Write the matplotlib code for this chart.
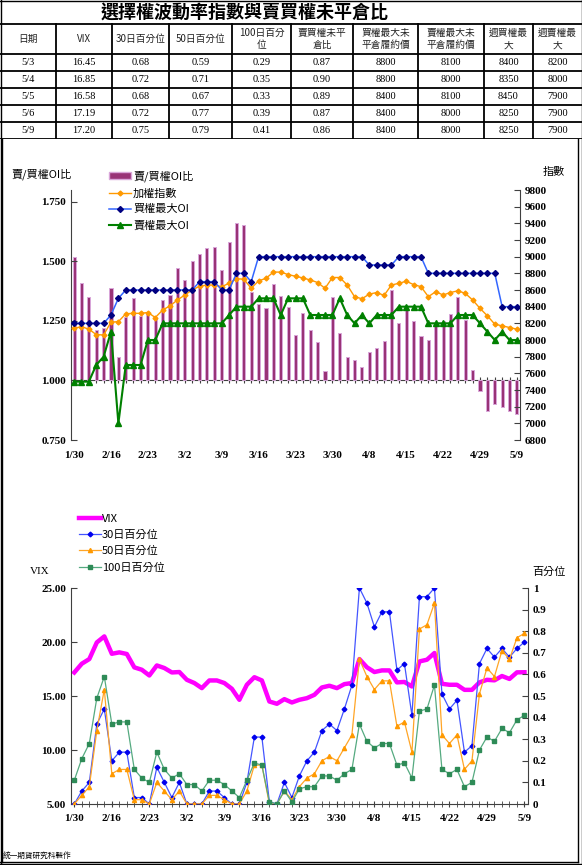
import matplotlib
matplotlib.use('Agg')
import matplotlib.pyplot as plt
import numpy as np
from matplotlib.lines import Line2D
from matplotlib.patches import Patch
from matplotlib.ticker import FormatStrFormatter, FuncFormatter

plt.rcParams['font.family'] = ['Liberation Serif', 'Noto Sans CJK TC']
CJK = ['Noto Sans CJK TC', 'DejaVu Sans']

# --- Table data ---
tbl_title = '選擇權波動率指數與賣買權未平倉比'
tbl_headers = ['日期', 'VIX', '30日百分位', '50日百分位', '100日百分\n位', '賣買權未平\n倉比',
               '買權最大未\n平倉履約價', '賣權最大未\n平倉履約價', '週買權最\n大', '週賣權最\n大']
tbl_dates = ['5/3', '5/4', '5/5', '5/6', '5/9']
tbl_vix = ['16.45', '16.85', '16.58', '17.19', '17.20']
tbl_p30 = ['0.68', '0.72', '0.68', '0.72', '0.75']
tbl_p50 = ['0.59', '0.71', '0.67', '0.77', '0.79']
tbl_p100 = ['0.29', '0.35', '0.33', '0.39', '0.41']
tbl_pc = ['0.87', '0.90', '0.89', '0.87', '0.86']
tbl_call_max = ['8800', '8800', '8400', '8400', '8400']
tbl_put_max = ['8100', '8000', '8100', '8000', '8000']
tbl_wk_call = ['8400', '8350', '8450', '8250', '8250']
tbl_wk_put = ['8200', '8000', '7900', '7900', '7900']

# --- Chart data ---
dates = ['1/30', '2/1', '2/2', '2/3', '2/15', '2/16', '2/17', '2/18', '2/19', '2/22',
         '2/23', '2/24', '2/25', '2/26', '3/1', '3/2', '3/3', '3/4', '3/7', '3/8',
         '3/9', '3/10', '3/11', '3/14', '3/15', '3/16', '3/17', '3/18', '3/21', '3/22',
         '3/23', '3/24', '3/25', '3/28', '3/29', '3/30', '3/31', '4/1', '4/6', '4/7',
         '4/8', '4/11', '4/12', '4/13', '4/14', '4/15', '4/18', '4/19', '4/20', '4/21',
         '4/22', '4/25', '4/26', '4/27', '4/28', '4/29', '5/3', '5/4', '5/5', '5/6',
         '5/9']

pc_ratio = [1.52, 1.41, 1.35, 1.21, 1.22, 1.39, 1.10, 1.265, 1.347, 1.27,
            1.28, 1.26, 1.336, 1.357, 1.473, 1.424, 1.50, 1.532, 1.557, 1.56,
            1.466, 1.581, 1.661, 1.655, 1.371, 1.322, 1.305, 1.406, 1.354, 1.31,
            1.189, 1.285, 1.212, 1.16, 1.038, 1.35, 1.199, 1.10, 1.084, 1.057,
            1.12, 1.136, 1.165, 1.381, 1.241, 1.30, 1.249, 1.185, 1.171, 1.231,
            1.249, 1.28, 1.35, 1.252, 1.042, 0.955, 0.87, 0.90, 0.89, 0.87,
            0.86]

taiex = [8140, 8160, 8130, 8065, 8060, 8215, 8220, 8315, 8320, 8320,
         8330, 8270, 8360, 8410, 8480, 8540, 8600, 8645, 8660, 8660,
         8640, 8680, 8735, 8730, 8620, 8710, 8740, 8815, 8815, 8785,
         8765, 8745, 8720, 8690, 8620, 8750, 8750, 8660, 8520, 8495,
         8550, 8570, 8535, 8660, 8680, 8705, 8665, 8640, 8520, 8580,
         8540, 8570, 8590, 8560, 8480, 8380, 8290, 8190, 8170, 8150,
         8130]

call_max_oi = [8200, 8200, 8200, 8200, 8200, 8300, 8500, 8600, 8600, 8600,
               8600, 8600, 8600, 8600, 8600, 8600, 8600, 8700, 8700, 8700,
               8600, 8600, 8800, 8800, 8700, 9000, 9000, 9000, 9000, 9000,
               9000, 9000, 9000, 9000, 9000, 9000, 9000, 9000, 9000, 9000,
               8900, 8900, 8900, 8900, 9000, 9000, 9000, 9000, 8800, 8800,
               8800, 8800, 8800, 8800, 8800, 8800, 8800, 8800, 8400, 8400,
               8400]

put_max_oi = [7500, 7500, 7500, 7700, 7800, 8100, 7000, 7700, 7700, 7700,
              8000, 8000, 8200, 8200, 8200, 8200, 8200, 8200, 8200, 8200,
              8200, 8300, 8400, 8400, 8400, 8500, 8500, 8500, 8300, 8500,
              8500, 8500, 8300, 8300, 8300, 8300, 8500, 8300, 8200, 8300,
              8200, 8300, 8300, 8300, 8400, 8400, 8400, 8400, 8200, 8200,
              8200, 8200, 8300, 8300, 8300, 8200, 8100, 8000, 8100, 8000,
              8000]

vix = [17.18, 17.99, 18.42, 19.96, 20.52, 18.91, 19.04, 18.89, 17.65, 17.43,
       16.90, 17.83, 17.59, 17.18, 17.22, 16.50, 16.20, 15.73, 16.44, 16.44,
       16.20, 15.67, 14.65, 16.04, 16.74, 16.44, 14.49, 14.28, 14.71, 14.40,
       14.65, 14.80, 15.11, 15.79, 15.95, 15.73, 16.10, 16.20, 18.42, 17.66,
       17.22, 17.37, 17.37, 16.26, 16.30, 15.88, 18.20, 18.36, 18.98, 16.13,
       16.04, 16.04, 15.57, 15.57, 16.26, 16.50, 16.45, 16.85, 16.58, 17.19,
       17.20]

p30 = [0.00, 0.06, 0.10, 0.37, 0.44, 0.20, 0.24, 0.24, 0.03, 0.03,
       0.00, 0.17, 0.10, 0.03, 0.10, 0.00, 0.00, 0.00, 0.06, 0.06,
       0.03, 0.00, 0.00, 0.10, 0.31, 0.31, 0.01, 0.00, 0.10, 0.03,
       0.13, 0.20, 0.24, 0.34, 0.37, 0.34, 0.44, 0.55, 1.00, 0.93,
       0.82, 0.89, 0.89, 0.62, 0.65, 0.41, 0.96, 0.96, 1.00, 0.51,
       0.44, 0.48, 0.24, 0.27, 0.65, 0.72, 0.68, 0.72, 0.68, 0.72,
       0.75]

p50 = [0.00, 0.04, 0.08, 0.34, 0.53, 0.14, 0.16, 0.16, 0.02, 0.02,
       0.00, 0.10, 0.06, 0.02, 0.06, 0.00, 0.00, 0.00, 0.04, 0.04,
       0.02, 0.00, 0.00, 0.06, 0.18, 0.18, 0.00, 0.00, 0.06, 0.02,
       0.08, 0.12, 0.14, 0.20, 0.22, 0.20, 0.26, 0.32, 0.67, 0.59,
       0.53, 0.57, 0.57, 0.36, 0.38, 0.24, 0.81, 0.83, 0.93, 0.32,
       0.28, 0.32, 0.16, 0.20, 0.51, 0.63, 0.59, 0.71, 0.67, 0.77,
       0.79]

p100 = [0.11, 0.21, 0.28, 0.49, 0.59, 0.37, 0.38, 0.38, 0.16, 0.12,
        0.10, 0.24, 0.16, 0.12, 0.14, 0.09, 0.09, 0.06, 0.11, 0.11,
        0.09, 0.06, 0.03, 0.11, 0.19, 0.18, 0.01, 0.00, 0.06, 0.01,
        0.07, 0.08, 0.08, 0.13, 0.13, 0.11, 0.14, 0.16, 0.37, 0.29,
        0.26, 0.28, 0.28, 0.18, 0.19, 0.12, 0.43, 0.44, 0.55, 0.16,
        0.14, 0.16, 0.08, 0.10, 0.25, 0.31, 0.29, 0.35, 0.33, 0.39,
        0.41]

# --- Figure in pixel layout ---
W, H = 582, 865
fig = plt.figure(figsize=(W / 100, H / 100), dpi=100)


def add_ax(l, t, r, b):
    return fig.add_axes([l / W, 1 - b / H, (r - l) / W, (b - t) / H])


def fig_line(xs, ys, lw=1.0):
    fig.add_artist(Line2D([v / W for v in xs], [1 - v / H for v in ys],
                          transform=fig.transFigure, color='black', lw=lw))


def bold_ticks(labels, size=8):
    for lab in labels:
        lab.set_fontsize(size)
        lab.set_fontweight('bold')


# --- Table ---
tax = add_ax(0, 0, W, 139)
tax.set_xlim(0, W)
tax.set_ylim(139, 0)
tax.axis('off')
col_edges = [0, 56, 112, 169, 232, 291, 353, 418, 484, 533, W]
row_edges = [0, 24, 54, 71, 88, 105, 122, 139]
for ry in row_edges[1:]:
    tax.plot([0, W], [ry, ry], color='black', lw=1.3)
for cx in col_edges[1:-1]:
    tax.plot([cx, cx], [row_edges[1], row_edges[-1]], color='black', lw=1.3)
tax.text(245, 12, tbl_title, ha='center', va='center', fontsize=13,
         fontweight='bold', family=CJK)
centers = [(a + b) / 2 for a, b in zip(col_edges[:-1], col_edges[1:])]
for cx, h in zip(centers, tbl_headers):
    tax.text(cx, (row_edges[1] + row_edges[2]) / 2, h, ha='center', va='center',
             fontsize=7, family=CJK, linespacing=1.35, color='#222222')
columns = [tbl_dates, tbl_vix, tbl_p30, tbl_p50, tbl_p100, tbl_pc,
           tbl_call_max, tbl_put_max, tbl_wk_call, tbl_wk_put]
for cx, col in zip(centers, columns):
    for r, val in enumerate(col):
        cy = (row_edges[r + 2] + row_edges[r + 3]) / 2
        tax.text(cx, cy, val, ha='center', va='center', fontsize=7.5,
                 family='Liberation Serif')

x = np.arange(len(dates))

# --- Top chart: put/call OI ratio + index ---
ax1 = add_ax(71, 190, 520, 440)
ratio = np.array(pc_ratio)
ax1.bar(x, ratio - 1.0, bottom=1.0, width=0.42, color='#993377',
        edgecolor='#d9a6d9', linewidth=0.7, label='賣/買權OI比')
ax1.set_ylim(0.75, 1.80)
ax1.set_xlim(-0.42, 60.42)
ax1.set_yticks([0.75, 1.0, 1.25, 1.5, 1.75])
ax1.yaxis.set_major_formatter(FormatStrFormatter('%.3f'))
ax1.set_xticks(x[::5], [dates[i] for i in x[::5]])
ax1.tick_params(axis='x', length=0, pad=8)
ax1.tick_params(axis='y', direction='in', length=4, color='#404040')
bold_ticks(ax1.get_xticklabels() + ax1.get_yticklabels())
ax1.spines['top'].set_visible(False)
ax1.spines['bottom'].set_visible(False)
ax1.spines['right'].set_visible(False)
ax1.spines['left'].set_color('#404040')
# category axis crossing at 1.0
sec = ax1.secondary_xaxis((1.0 - 0.75) / (1.80 - 0.75))
sec.set_xticks(x, labels=[])
sec.tick_params(direction='inout', length=4, color='#404040')
sec.spines['bottom'].set_color('#404040')

ax1r = ax1.twinx()
ax1r.plot(x, taiex, color='#FF9900', lw=1.0, marker='D', ms=2.5, label='加權指數')
ax1r.plot(x, call_max_oi, color='#3366FF', lw=1.1, marker='D', ms=3.0,
          mfc='#000080', mec='#000080', label='買權最大OI')
ax1r.plot(x, put_max_oi, color='#008000', lw=1.5, marker='^', ms=4.8,
          mfc='#008000', mec='#008000', label='賣權最大OI')
ax1r.set_ylim(6800, 9800)
ax1r.set_yticks(np.arange(6800, 9801, 200))
ax1r.tick_params(axis='y', direction='in', length=4, color='#404040')
bold_ticks(ax1r.get_yticklabels())
ax1r.spines['top'].set_visible(False)
ax1r.spines['bottom'].set_visible(False)
ax1r.spines['left'].set_visible(False)
ax1r.spines['right'].set_color('#404040')

h1 = [Patch(facecolor='#993377', edgecolor='#d9a6d9', label='賣/買權OI比')]
h1 += ax1r.get_legend_handles_labels()[0]
ax1r.legend(handles=h1, loc='upper left', bbox_to_anchor=(103 / W, 1 - 165 / H),
            bbox_transform=fig.transFigure, frameon=False, prop={'family': CJK, 'size': 8},
            handlelength=2.0, handleheight=0.5, handletextpad=0.2, labelspacing=0.55,
            borderpad=0)
fig.text(12 / W, 1 - 174 / H, '賣/買權OI比', fontsize=8, family=CJK, va='center')
fig.text(543 / W, 1 - 172 / H, '指數', fontsize=8, family=CJK, va='center')

# --- Bottom chart: VIX + percentiles ---
ax2 = add_ax(71, 588, 528, 804)
ax2.plot(x, vix, color='#FF00FF', lw=3.2, label='VIX', solid_joinstyle='round')
ax2.set_ylim(5, 25)
ax2.set_xlim(-0.44, 60.47)
ax2.set_yticks([5, 10, 15, 20, 25])
ax2.yaxis.set_major_formatter(FormatStrFormatter('%.2f'))
ax2.set_xticks(x[::5], [dates[i] for i in x[::5]])
ax2.set_xticks(x, minor=True)
ax2.tick_params(axis='x', which='both', direction='inout', length=4, color='#404040', pad=5)
ax2.tick_params(axis='y', direction='in', length=4, color='#404040')
bold_ticks(ax2.get_xticklabels() + ax2.get_yticklabels())
ax2.spines['top'].set_visible(False)
ax2.spines['right'].set_visible(False)
for s in ['left', 'bottom']:
    ax2.spines[s].set_color('#404040')

ax2r = ax2.twinx()
ax2r.plot(x, p30, color='#4455FF', lw=0.9, marker='D', ms=2.4,
          mfc='#0000EE', mec='#0000EE', label='30日百分位')
ax2r.plot(x, p50, color='#FFA526', lw=0.9, marker='^', ms=3,
          mfc='#FF9900', mec='#FF9900', label='50日百分位')
ax2r.plot(x, p100, color='#55AA80', lw=0.9, marker='s', ms=2.8,
          mfc='#2E8B57', mec='#2E8B57', label='100日百分位')
ax2r.set_ylim(0, 1)
ax2r.set_yticks(np.round(np.arange(0, 1.01, 0.1), 1))
ax2r.yaxis.set_major_formatter(FuncFormatter(lambda v, p: f'{v:g}'))
ax2r.tick_params(axis='y', direction='in', length=4, color='#404040')
bold_ticks(ax2r.get_yticklabels())
ax2r.spines['top'].set_visible(False)
ax2r.spines['left'].set_visible(False)
ax2r.spines['bottom'].set_visible(False)
ax2r.spines['right'].set_color('#404040')

h2 = ax2.get_legend_handles_labels()[0] + ax2r.get_legend_handles_labels()[0]
ax2r.legend(handles=h2, loc='upper left', bbox_to_anchor=(73 / W, 1 - 508 / H),
            bbox_transform=fig.transFigure, frameon=False, prop={'family': CJK, 'size': 8},
            handlelength=2.0, handletextpad=0.1, labelspacing=0.55, borderpad=0)
fig.text(30 / W, 1 - 572 / H, 'VIX', fontsize=8, va='center', family='Liberation Serif')
fig.text(532 / W, 1 - 572 / H, '百分位', fontsize=8, family=CJK, va='center')

fig.text(3 / W, 1 - 856 / H, '統一期貨研究科製作', fontsize=5.5, family=CJK, va='center')

# --- Frames ---
fig_line([0.5, 0.5], [0, H])
fig_line([0, W], [0.5, 0.5])
fig_line([W - 0.5, W - 0.5], [0, H])
fig_line([0, W], [H - 0.8, H - 0.8])
fig_line([577.5, 577.5], [139, 862])
fig_line([0, 577.5], [862, 862])
fig_line([2, 2], [139, 862])

fig.savefig('out.png', dpi=100)
